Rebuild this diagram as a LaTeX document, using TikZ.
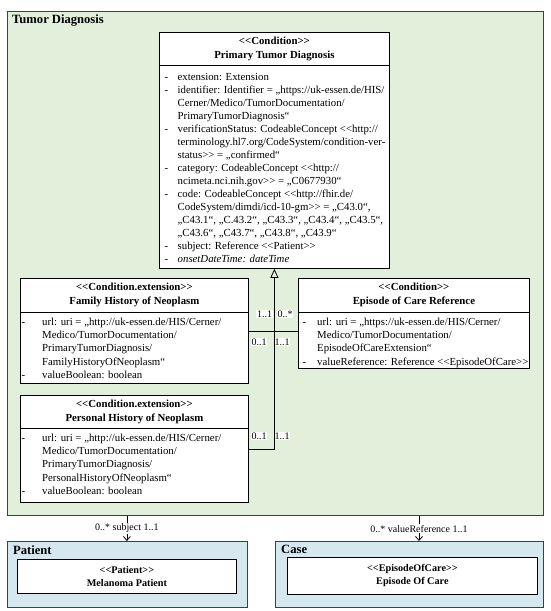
\documentclass[tikz,border=0pt]{standalone}
\usepackage{fontspec}
\newfontfamily\umlfont{Liberation Serif}
\usetikzlibrary{arrows.meta,positioning}
\definecolor{tdgreen}{RGB}{226,239,218}
\definecolor{ptblue}{RGB}{213,232,240}
\newcommand{\attr}[1][13pt]{\makebox[#1][l]{-}}
\newcommand{\cont}[1][13pt]{\hspace*{#1}}
\tikzset{pkg/.style={draw=black!75, line width=1.1pt, anchor=north west, inner sep=0pt},
  cls/.style={draw, fill=white, line width=0.8pt, anchor=north west, inner sep=0pt},
  clshead/.style={align=center, font=\umlfont\bfseries\fontsize{10.8}{14}\selectfont},
  clsbody/.style={align=left, anchor=north west, inner sep=0pt, font=\umlfont\fontsize{10.8}{13.1}\selectfont},
  pkgtitle/.style={anchor=west, inner sep=0pt, font=\umlfont\bfseries\fontsize{12.6}{15}\selectfont},
  mult/.style={fill=white, inner sep=0.8pt, font=\umlfont\fontsize{10}{12}\selectfont}}

\begin{document}
\begin{tikzpicture}[x=1pt,y=-1pt]
\useasboundingbox (0,0) rectangle (550,611);
\node[pkg, fill=tdgreen, minimum width=536pt, minimum height=504pt] (tumor) at (7,11) {};
\node[pkgtitle] (tumortitle) at (12,21) {Tumor Diagnosis};

\node[cls, minimum width=230pt, minimum height=236pt] (ptd) at (159,32) {};
\draw[line width=0.8pt] (ptd.west |- 0,65) -- (ptd.east |- 0,65);
\node[clshead] (ptdhead) at (ptd.north |- 0,49) {<<Condition>>\\Primary Tumor Diagnosis};
\node[clsbody, font=\umlfont\fontsize{10.8}{12.97}\selectfont] (ptdbody) at (164.5,73.5) {\attr extension: Extension\\
\attr identifier: Identifier = „https://uk-essen.de/HIS/\\
\cont Cerner/Medico/TumorDocumentation/\\
\cont PrimaryTumorDiagnosis“\\
\attr verificationStatus: CodeableConcept <<http://\\
\cont terminology.hl7.org/CodeSystem/condition-ver-\\
\cont status>> = „confirmed“\\
\attr category: CodeableConcept <<http://\\
\cont ncimeta.nci.nih.gov>> = „C0677930“\\
\attr code: CodeableConcept <<http://fhir.de/\\
\cont CodeSystem/dimdi/icd-10-gm>> = „C43.0“,\\
\cont „C43.1“, „C.43.2“, „C43.3“, „C43.4“, „C43.5“,\\
\cont „C43.6“, „C43.7“, „C43.8“, „C43.9“\\
\attr subject: Reference <<Patient>>\\
\attr\textit{onsetDateTime: dateTime}};

\node[cls, minimum width=228pt, minimum height=105pt] (fhn) at (20,278) {};
\draw[line width=0.8pt] (fhn.west |- 0,312) -- (fhn.east |- 0,312);
\node[clshead] (fhnhead) at (fhn.north |- 0,295) {<<Condition.extension>>\\Family History of Neoplasm};
\node[clsbody] (fhnbody) at (21.5,318) {\attr[20.5pt]url: uri = „http://uk-essen.de/HIS/Cerner/\\
\cont[20.5pt]Medico/TumorDocumentation/\\
\cont[20.5pt]PrimaryTumorDiagnosis/\\
\cont[20.5pt]FamilyHistoryOfNeoplasm“\\
\attr[20.5pt]valueBoolean: boolean};

\node[cls, minimum width=231pt, minimum height=90pt] (ecr) at (298,278) {};
\draw[line width=0.8pt] (ecr.west |- 0,312) -- (ecr.east |- 0,312);
\node[clshead] (ecrhead) at (ecr.north |- 0,295) {<<Condition>>\\Episode of Care Reference};
\node[clsbody] (ecrbody) at (302.5,318) {\attr[14.5pt]url: uri = „https://uk-essen.de/HIS/Cerner/\\
\cont[14.5pt]Medico/TumorDocumentation/\\
\cont[14.5pt]EpisodeOfCareExtension“\\
\attr[14.5pt]valueReference: Reference <<EpisodeOfCare>>};

\node[cls, minimum width=228pt, minimum height=107pt] (phn) at (20,395) {};
\draw[line width=0.8pt] (phn.west |- 0,428) -- (phn.east |- 0,428);
\node[clshead] (phnhead) at (phn.north |- 0,411.5) {<<Condition.extension>>\\Personal History of Neoplasm};
\node[clsbody] (phnbody) at (21.5,434) {\attr[20.5pt]url: uri = „http://uk-essen.de/HIS/Cerner/\\
\cont[20.5pt]Medico/TumorDocumentation/\\
\cont[20.5pt]PrimaryTumorDiagnosis/\\
\cont[20.5pt]PersonalHistoryOfNeoplasm“\\
\attr[20.5pt]valueBoolean: boolean};

\node[mult] at (264.5,314) {1..1};
\node[mult] at (285,314) {0..*};
\node[mult] at (259,342) {0..1};
\node[mult] at (282,342) {1..1};
\node[mult] at (259,436) {0..1};
\node[mult] at (282,436) {1..1};
\draw[line width=0.8pt, -{Triangle[open,length=9pt,width=8pt]}] (phn.east) -| (ptd.south);
\draw[line width=0.8pt] (fhn.east) -- (fhn.east -| ecr.west);

\node[pkg, fill=ptblue, minimum width=240pt, minimum height=66pt] (patient) at (7,541) {};
\node[pkgtitle] (patienttitle) at (13,550) {Patient};
\node[cls, clshead, font=\umlfont\bfseries\fontsize{10.2}{13}\selectfont, minimum width=219pt, minimum height=34pt] (mpat) at (17,559) {<<Patient>>\\Melanoma Patient};

\node[pkg, fill=ptblue, minimum width=268pt, minimum height=66pt] (case) at (275,541) {};
\node[pkgtitle] (casetitle) at (281,549) {Case};
\node[cls, clshead, font=\umlfont\bfseries\fontsize{10.2}{13}\selectfont, minimum width=250pt, minimum height=37pt] (eoc) at (287,557) {<<EpisodeOfCare>>\\Episode Of Care};

\coordinate (vref) at (419,528);
\draw[line width=0.8pt, -{Straight Barb[length=4pt,width=7pt]}] (tumor.south -| mpat.north) -- (patient.north -| mpat.north) node[mult, midway] {0..* subject 1..1};
\draw[line width=0.8pt, -{Straight Barb[length=4pt,width=7pt]}] (tumor.south -| vref) -- (case.north -| vref) node[mult, midway] {0..* valueReference 1..1};
\end{tikzpicture}
\end{document}
